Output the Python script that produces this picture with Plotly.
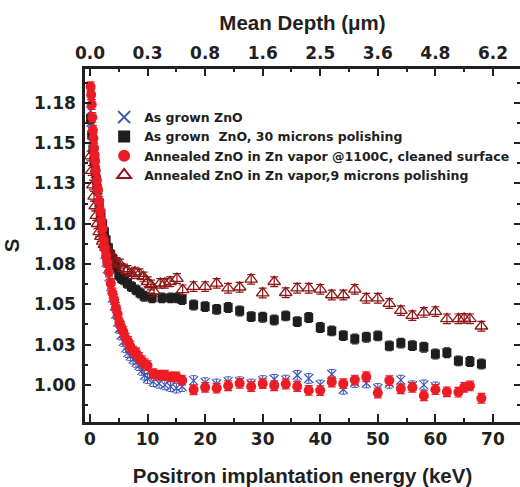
import plotly.graph_objects as go

# ---- data: positron S-parameter vs implantation energy ----
# As grown ZnO
e_asgrown = [0.1, 0.2, 0.3, 0.4, 0.5, 0.6, 0.7, 0.8, 0.9, 1.0, 1.2, 1.4, 1.6, 1.8, 2.0,
             2.2, 2.4, 2.6, 2.8, 3.0, 3.3, 3.6, 3.9, 4.2, 4.5, 4.8, 5.1, 5.4, 5.8, 6.2,
             6.6, 7.0, 7.5, 8.0, 8.5, 9.0, 9.5, 10, 11, 12, 13, 14, 15, 16,
             18, 20, 22, 24, 26, 28, 30, 32, 34, 36, 38, 40, 42, 44, 46, 48, 50, 52,
             54, 56, 58, 60]
s_asgrown = [1.170, 1.163, 1.158, 1.152, 1.148, 1.143, 1.139, 1.135, 1.131, 1.128, 1.122,
             1.116, 1.110, 1.104, 1.099, 1.093, 1.087, 1.081, 1.076, 1.072, 1.067, 1.061,
             1.054, 1.049, 1.044, 1.039, 1.035, 1.031, 1.027, 1.023, 1.020, 1.018, 1.016,
             1.014, 1.012, 1.009, 1.006, 1.004, 1.002, 1.001, 1.000, 0.999, 0.998, 0.999,
             1.0027, 1.0014, 1.0006, 1.0020, 1.0020, 1.0006, 1.0027, 1.0035, 1.0030,
             1.0060, 1.0040, 1.0000, 1.0066, 0.9973, 1.0015, 1.0012, 0.9978, 1.0010,
             1.0030, 0.9995, 1.0000, 0.9988]
err_asgrown = 0.003

# As grown ZnO, 30 microns polishing
e_polished = [0.1, 0.3, 0.5, 0.7, 0.9, 1.1, 1.3, 1.6, 1.9, 2.2, 2.5, 2.8, 3.2, 3.6, 4.0,
              4.5, 5.0, 5.5, 6.0, 6.5, 7.2, 8.0, 8.7, 9.4, 10.8, 12.5, 14.0, 15.2, 16,
              18, 20, 22, 24, 26, 28, 30, 32, 34, 36, 38, 40, 42, 44, 46, 48, 50, 52,
              54, 56, 58, 60, 62, 64, 66, 68]
s_polished = [1.165, 1.155, 1.146, 1.139, 1.133, 1.127, 1.121, 1.113, 1.106, 1.100, 1.095,
              1.090, 1.085, 1.081, 1.078, 1.073, 1.068, 1.066, 1.065, 1.063, 1.061, 1.059,
              1.057, 1.055, 1.054, 1.054, 1.054, 1.054, 1.053,
              1.0496, 1.0486, 1.0469, 1.0480, 1.0459, 1.0424, 1.0420, 1.0403, 1.0428,
              1.0393, 1.0418, 1.0356, 1.0335, 1.0306, 1.0285, 1.0296, 1.0304, 1.0242,
              1.0259, 1.0244, 1.0234, 1.0192, 1.0200, 1.0149, 1.0145, 1.0130]
err_polished = 0.003

# Annealed ZnO in Zn vapor @1100C, cleaned surface
e_annealed = [0.1, 0.2, 0.3, 0.4, 0.5, 0.6, 0.7, 0.8, 0.9, 1.0, 1.2, 1.4, 1.6, 1.8, 2.0,
              2.2, 2.4, 2.6, 2.8, 3.0, 3.3, 3.6, 3.9, 4.2, 4.5, 4.8, 5.1, 5.4, 5.8, 6.2,
              6.6, 7.0, 7.5, 8.0, 8.5, 9.0, 9.5, 10, 11, 12, 13, 14, 15, 16,
              18, 20, 22, 24, 26, 28, 30, 32, 34, 36, 38, 40, 42, 44, 46, 48, 50, 52,
              54, 56, 58, 60, 62, 64, 65, 66, 68]
s_annealed = [1.185, 1.180, 1.174, 1.166, 1.158, 1.153, 1.147, 1.143, 1.139, 1.133, 1.127,
              1.121, 1.114, 1.108, 1.102, 1.097, 1.090, 1.085, 1.080, 1.076, 1.070, 1.063,
              1.057, 1.053, 1.048, 1.044, 1.039, 1.036, 1.033, 1.029, 1.027, 1.024, 1.021,
              1.020, 1.017, 1.015, 1.013, 1.012, 1.007, 1.006, 1.006, 1.005, 1.005, 1.003,
              0.9970, 0.9985, 0.9980, 0.9995, 1.0010, 0.9990, 1.0008, 0.9995, 1.0006,
              0.9990, 0.9966, 0.9965, 1.0018, 1.0008, 1.0030, 1.0051, 0.9950, 1.0027,
              0.9976, 0.9985, 0.9933, 0.9972, 0.9957, 0.9955, 0.9985, 0.9994, 0.9917]
err_annealed = 0.003

# Annealed ZnO in Zn vapor, 9 microns polishing
e_ann_pol = [0.1, 0.3, 0.5, 0.7, 0.9, 1.1, 1.3, 1.6, 1.9, 2.2, 2.5, 2.8, 3.2, 3.6, 4.0,
             4.6, 5.2, 5.9, 6.5, 7.2, 7.8, 8.6, 9.3, 10.0, 10.6, 11.1, 12.2, 13.0, 13.9,
             15.1, 16.1,
             18, 20, 22, 24, 26, 28, 30, 32, 34, 36, 38, 40, 42, 44, 46, 48, 50, 52,
             54, 56, 58, 60, 62, 64, 65, 66, 68]
s_ann_pol = [1.142, 1.133, 1.124, 1.117, 1.111, 1.105, 1.100, 1.095, 1.092, 1.089, 1.087,
             1.085, 1.083, 1.080, 1.078, 1.076, 1.075, 1.072, 1.071, 1.069, 1.070, 1.069,
             1.067, 1.064, 1.062, 1.058, 1.063, 1.063, 1.064, 1.066, 1.059,
             1.0610, 1.0610, 1.0630, 1.0600, 1.0606, 1.0655, 1.0570, 1.0640, 1.0572,
             1.0600, 1.0600, 1.0593, 1.0558, 1.0558, 1.0593, 1.0538, 1.0538, 1.0505,
             1.0461, 1.0430, 1.0450, 1.0455, 1.0410, 1.0410, 1.0413, 1.0410, 1.0364]
err_ann_pol = 0.003

# Bottom axis: energy ticks; top axis: corresponding mean depth labels
energy_ticks = [0, 10, 20, 30, 40, 50, 60, 70]
depth_labels = ["0.0", "0.3", "0.8", "1.6", "2.5", "3.6", "4.8", "6.2"]
s_ticks = [1.000, 1.025, 1.050, 1.075, 1.100, 1.125, 1.150, 1.175]
s_labels = ["1.00", "1.03", "1.05", "1.08", "1.10", "1.13", "1.15", "1.18"]

TITLE_FONT = "Liberation Sans, Arial, sans-serif"
TICK_FONT = "DejaVu Sans, sans-serif"
INK = "#231f20"
BLUE = "#3a55b4"
BLACK = "#1e1e1e"
RED = "#ec1c24"
DARKRED = "#8c1515"

X_RANGE = [-0.87, 74.7]
Y_RANGE = [0.977, 1.196]

fig = go.Figure()

fig.add_trace(go.Scatter(
    x=e_asgrown, y=s_asgrown, mode="markers", name="As grown ZnO", legendrank=1,
    marker=dict(symbol="x-thin-open", size=9, line=dict(color=BLUE, width=1.2), color=BLUE),
    error_y=dict(type="constant", value=err_asgrown, color=BLUE, thickness=1, width=3),
))
fig.add_trace(go.Scatter(
    x=e_polished, y=s_polished, mode="markers", name="As grown  ZnO, 30 microns polishing",
    legendrank=2,
    marker=dict(symbol="square", size=9, color=BLACK),
    error_y=dict(type="constant", value=err_polished, color=BLACK, thickness=1.2, width=3),
))
fig.add_trace(go.Scatter(
    x=e_ann_pol, y=s_ann_pol, mode="markers", name="Annealed ZnO in Zn vapor,9 microns polishing",
    legendrank=4,
    marker=dict(symbol="triangle-up-open", size=11, color=DARKRED, line=dict(color=DARKRED, width=1.3)),
    error_y=dict(type="constant", value=err_ann_pol, color=DARKRED, thickness=1.2, width=4),
))
fig.add_trace(go.Scatter(
    x=e_annealed, y=s_annealed, mode="markers",
    name="Annealed ZnO in Zn vapor @1100C, cleaned surface", legendrank=3,
    marker=dict(symbol="circle", size=10, color=RED),
    error_y=dict(type="constant", value=err_annealed, color=RED, thickness=1.2, width=4),
))
# empty traces that bring up the top (depth) axis and the mirrored right-hand ticks
fig.add_trace(go.Scatter(x=[None], y=[None], xaxis="x2", yaxis="y", showlegend=False,
                         hoverinfo="skip"))
fig.add_trace(go.Scatter(x=[None], y=[None], xaxis="x", yaxis="y2", showlegend=False,
                         hoverinfo="skip"))

axis_common = dict(
    showgrid=False, zeroline=False, showline=True, linewidth=2.5, linecolor=INK,
    ticks="inside", tickwidth=2, tickcolor=INK, automargin=False, tickangle=0,
    tickfont=dict(family=TICK_FONT, size=17, color=INK, weight="bold"),
)
title_font = dict(family=TITLE_FONT, size=20.5, color=INK, weight="bold")

fig.update_layout(
    width=520, height=487,
    margin=dict(l=85, r=0, t=69, b=65, autoexpand=False),
    paper_bgcolor="white", plot_bgcolor="white",
    font=dict(family=TITLE_FONT, color=INK),
    showlegend=True,
    legend=dict(
        x=0.044, y=0.905, xanchor="left", yanchor="top",
        bgcolor="rgba(0,0,0,0)", borderwidth=0,
        font=dict(family=TICK_FONT, size=12.5, color=INK, weight="bold"),
        tracegroupgap=0, itemsizing="constant",
    ),
    xaxis=dict(
        **axis_common, range=X_RANGE, tickvals=energy_ticks, ticklen=8,
        minor=dict(dtick=5, tick0=0, ticks="inside", ticklen=4, tickwidth=2, tickcolor=INK),
        title=dict(text="Positron implantation energy (keV)", standoff=22, font=title_font),
    ),
    xaxis2=dict(
        **axis_common, overlaying="x", side="top", anchor="y", range=X_RANGE,
        tickvals=energy_ticks, ticktext=depth_labels, ticklen=7,
        minor=dict(dtick=5, tick0=0, ticks="inside", ticklen=3, tickwidth=2, tickcolor=INK),
        title=dict(text="Mean Depth (μm)", standoff=8, font=title_font),
    ),
    yaxis=dict(
        **axis_common, range=Y_RANGE, tickvals=s_ticks, ticktext=s_labels, ticklen=6,
        ticklabelstandoff=3,
        minor=dict(dtick=0.0125, tick0=1.0, ticks="inside", ticklen=3, tickwidth=2, tickcolor=INK),
        title=dict(text="S", standoff=14, font=title_font),
    ),
    yaxis2=dict(
        overlaying="y", side="right", anchor="x", range=Y_RANGE, automargin=False,
        showgrid=False, zeroline=False, showline=False, showticklabels=False,
        ticks="inside", tickvals=s_ticks, ticklen=6, tickwidth=2, tickcolor=INK,
        minor=dict(dtick=0.0125, tick0=1.0, ticks="inside", ticklen=3, tickwidth=2, tickcolor=INK),
    ),
)

fig.write_html("out.html")
